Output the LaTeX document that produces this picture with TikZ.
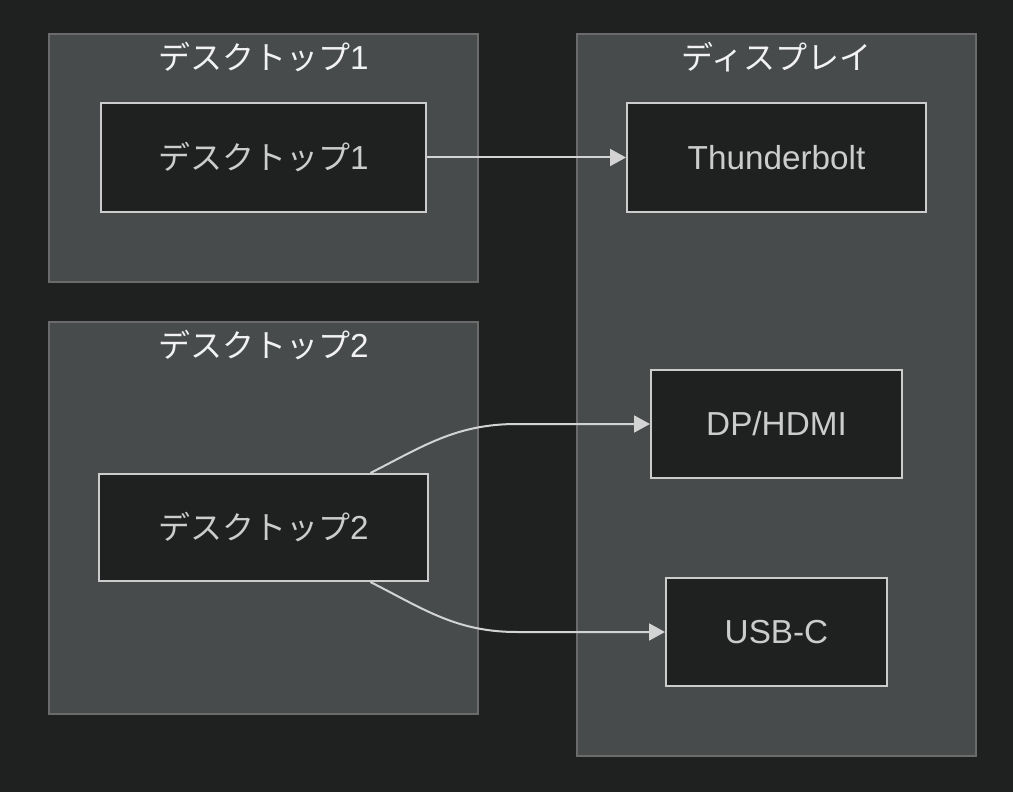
\documentclass[tikz,border=0pt]{standalone}
\usepackage{fontspec}
\setmainfont{Liberation Sans}[Scale=1.04]
\newfontfamily\jpfont{Noto Sans CJK JP}
\usepackage{tikz}
\usetikzlibrary{arrows.meta}

\definecolor{bgdark}{HTML}{1F2020}
\definecolor{clusterbg}{HTML}{474B4C}
\definecolor{clusterline}{HTML}{6B6B6B}
\definecolor{boxline}{HTML}{CCCCCC}
\definecolor{edgeline}{HTML}{D3D3D3}
\definecolor{titletext}{HTML}{F2F2F2}

\begin{document}
\begin{tikzpicture}[x=0.5pt, y=-0.5pt]
		\tikzstyle{Box} 	= [rectangle, draw=boxline, fill=bgdark, line width=1pt, text=boxline, inner sep=0pt, font=\fontsize{16pt}{19pt}\selectfont]
		\tikzstyle{Title}	= [text=titletext, inner sep=0pt, font=\fontsize{16pt}{19pt}\selectfont]
		\tikzstyle{Cluster}	= [fill=clusterbg, draw=clusterline, line width=0.6pt]
		\tikzstyle{Link}	= [draw=edgeline, line width=1pt, -{Triangle[length=8pt, width=8.5pt]}]

		\fill[bgdark] (0, 0) rectangle (1013, 792);

		% clusters
		\draw[Cluster] (49, 34) rectangle (478, 282);
		\draw[Cluster] (49, 322) rectangle (478, 714);
		\draw[Cluster] (577, 34) rectangle (976, 756);

		\node (c1) at (263.5, 57) [Title] {{\jpfont デスクトップ}1};
		\node (c2) at (263.5, 345) [Title] {{\jpfont デスクトップ}2};
		\node (c3) at (776.5, 57) [Title] {{\jpfont ディスプレイ}};

		% nodes
		\node (d1) at (263.5, 157.5) [Box, minimum width=162.5pt, minimum height=54.5pt] {{\jpfont デスクトップ}1};
		\node (d2) at (263.5, 527.5) [Box, minimum width=164.5pt, minimum height=53.5pt] {{\jpfont デスクトップ}2};
		\node (tb) at (776.5, 157.5) [Box, minimum width=149.5pt, minimum height=54.5pt] {Thunderbolt};
		\node (dp) at (776.5, 424) [Box, minimum width=125.5pt, minimum height=54pt] {DP/HDMI};
		\node (usb) at (776.5, 632) [Box, minimum width=110.5pt, minimum height=54pt] {USB-C};

		\coordinate (k1) at (517, 424);
		\coordinate (k2) at (517, 632);

		% links
		\draw [Link] (d1) to (tb);
		\draw [Link] (d2) to[out=27, in=180] (k1) -- (dp);
		\draw [Link] (d2) to[out=-27, in=180] (k2) -- (usb);
	\end{tikzpicture}
\end{document}
